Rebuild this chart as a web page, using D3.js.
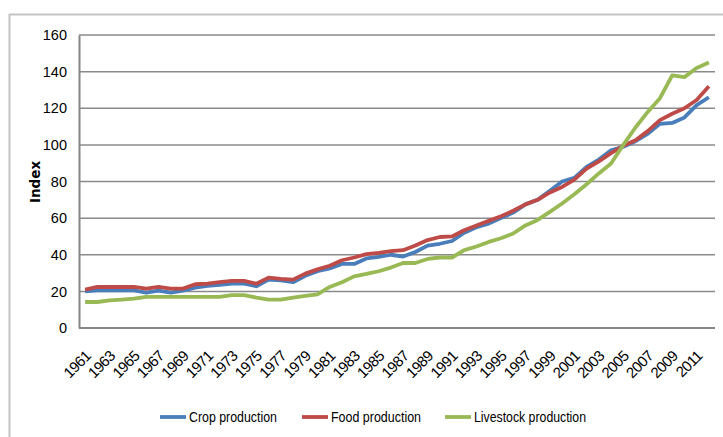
<!DOCTYPE html>
<html>
<head>
<meta charset="utf-8">
<script src="https://cdn.jsdelivr.net/npm/d3@7"></script>
<style>
  body { margin: 0; background: #fff; }
  svg { display: block; }
  text { font-family: "Liberation Sans Narrow", "Liberation Sans", Arial, sans-serif; fill: #000; }
</style>
</head>
<body>
<script>
// years 1961 - 2012
var years = d3.range(1961, 2013);
var xLabels = d3.range(1961, 2012, 2); // every other year shown

var crop = [20, 20.6, 20.6, 20.6, 20.6, 19.3, 20.4, 19.3, 20.4, 22, 23, 23.5, 24.2, 24.2, 22.8, 26.4, 26, 25, 28.5, 31,
            32.5, 35, 35, 38, 38.8, 40, 39, 41.5, 45, 46, 47.5, 52, 55, 57, 60, 63, 67.5, 70, 75, 80,
            82, 88, 92, 97, 99, 102, 106, 111.5, 112, 115, 121.7, 126];
var food = [21, 22.4, 22.4, 22.4, 22.4, 21.5, 22.4, 21.5, 21.5, 23.9, 24.2, 25, 25.7, 25.7, 24.2, 27.5, 26.8, 26.4, 29.7, 32,
            34, 37, 38.5, 40.3, 41, 42, 42.5, 45, 48, 49.7, 50, 53.4, 56, 58.5, 61, 64, 67.5, 70, 74, 77,
            81, 87, 91, 95.5, 99.5, 102.5, 107.5, 113.5, 117, 120, 124.5, 132];
var livestock = [14.2, 14.2, 15.1, 15.5, 16, 17, 17, 17, 17, 17, 17, 17, 17.9, 17.9, 16.6, 15.5, 15.5, 16.6, 17.5, 18.4,
                 22.4, 25, 28.2, 29.5, 31, 33, 35.5, 35.5, 37.7, 38.5, 38.5, 42.5, 44.5, 47, 49, 51.6, 56, 59, 63.4, 68,
                 73, 78.5, 84.4, 89.8, 100, 109.5, 118, 125.5, 138, 137, 142, 145];
var yTicks = [0, 20, 40, 60, 80, 100, 120, 140, 160];

var seriesNames = ["Crop production", "Food production", "Livestock production"];
var seriesColors = ["#4a7ebb", "#be4b48", "#98b954"];
var seriesData = [crop, food, livestock];

var width = 723, height = 437;
var plot = {left: 79, right: 715, top: 35, bottom: 328};

var svg = d3.select("body").append("svg").attr("width", width).attr("height", height);

// outer chart border (runs off the right and bottom edge)
svg.append("rect")
   .attr("x", 9.5).attr("y", 14.5)
   .attr("width", 760).attr("height", 460)
   .attr("fill", "none").attr("stroke", "#c4c4c4").attr("stroke-width", 2);

var x = d3.scalePoint().domain(years).range([plot.left, plot.right]).padding(0.5);
var y = d3.scaleLinear().domain([0, 160]).range([plot.bottom, plot.top]);

// gridlines
svg.append("g").selectAll("line")
   .data(yTicks.filter(function(d) { return d > 0; }))
   .enter().append("line")
     .attr("x1", plot.left).attr("x2", plot.right)
     .attr("y1", function(d) { return y(d); }).attr("y2", function(d) { return y(d); })
     .attr("stroke", "#8a8a8a").attr("stroke-width", 1.5);

// y axis
var yAxis = d3.axisLeft(y).tickValues(yTicks).tickSize(0).tickPadding(12);
var gy = svg.append("g").attr("transform", "translate(" + plot.left + ",0)").call(yAxis);
gy.select(".domain").attr("stroke", "#868686").attr("stroke-width", 2);
gy.selectAll("text").style("font-size", "14.5px");

// x axis
var xAxis = d3.axisBottom(x).tickValues(xLabels).tickSize(0).tickPadding(0);
var gx = svg.append("g").attr("transform", "translate(0," + plot.bottom + ")").call(xAxis);
gx.select(".domain").attr("d", "M" + plot.left + ",0H" + plot.right).attr("stroke", "#868686").attr("stroke-width", 2);
gx.selectAll("text")
  .style("font-size", "15px")
  .style("letter-spacing", "-0.6px")
  .attr("text-anchor", "end")
  .attr("dy", null).attr("y", 0)
  .attr("transform", "translate(6,29) rotate(-45)");

// y title
svg.append("text")
   .attr("transform", "translate(40,182) rotate(-90)")
   .attr("text-anchor", "middle")
   .style("font-family", "'DejaVu Sans', sans-serif")
   .style("font-weight", "bold")
   .style("font-size", "13.5px")
   .text("Index");

// lines
var line = d3.line()
  .x(function(d, i) { return x(years[i]); })
  .y(function(d) { return y(d); });

seriesData.forEach(function(s, k) {
  svg.append("path")
     .datum(s)
     .attr("d", line)
     .attr("fill", "none")
     .attr("stroke", seriesColors[k])
     .attr("stroke-width", 3.8)
     .attr("stroke-linejoin", "round");
});

// legend
var legendX = [160, 302, 445];
var legendW = [88, 90, 112]; // text widths
var legend = svg.append("g").selectAll("g")
   .data(seriesNames)
   .enter().append("g")
     .attr("transform", function(d, i) { return "translate(" + legendX[i] + ",417)"; });
legend.append("line")
   .attr("x1", 0).attr("x2", 26).attr("y1", 0).attr("y2", 0)
   .attr("stroke", function(d, i) { return seriesColors[i]; })
   .attr("stroke-width", 3.8);
legend.append("text")
   .attr("x", 29).attr("y", 5)
   .attr("textLength", function(d, i) { return legendW[i]; })
   .attr("lengthAdjust", "spacingAndGlyphs")
   .style("font-size", "15px")
   .text(function(d) { return d; });
</script>
</body>
</html>
